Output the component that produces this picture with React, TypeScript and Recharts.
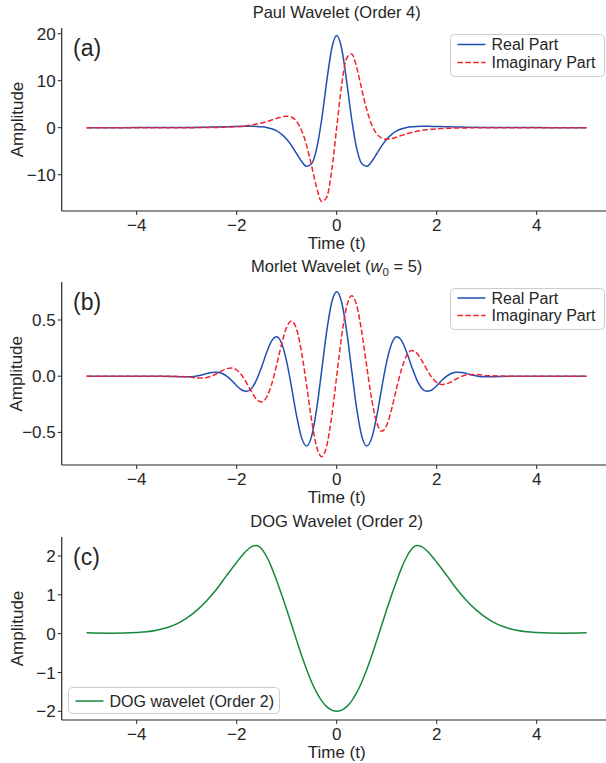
import React from 'react';
import { LineChart, Line, XAxis, YAxis, Legend } from 'recharts';

const FONT = '"Liberation Sans", Arial, Helvetica, sans-serif';
const INK = '#262626';
const BLUE = '#1f4fb4';
const RED = '#f5222d';
const GREEN = '#15883a';

// shared x ticks
const xTicks = [-4, -2, 0, 2, 4];

// (a) Paul wavelet, order 4
const paulT = [
  -5, -4.5, -4, -3.5, -3,
  -2.5, -2.4, -2.3, -2.2, -2.1, -2, -1.9, -1.8, -1.7, -1.6, -1.5, -1.4, -1.3, -1.2, -1.1, -1,
  -0.9, -0.8, -0.7, -0.6, -0.5, -0.4, -0.3, -0.2, -0.1, 0,
  0.1, 0.2, 0.3, 0.4, 0.5, 0.6, 0.7, 0.8, 0.9, 1, 1.1, 1.2, 1.3, 1.4, 1.5, 1.6, 1.7, 1.8, 1.9, 2,
  2.1, 2.2, 2.3, 2.4, 2.5,
  3, 3.5, 4, 4.5, 5,
];
const paulReal = [
  0.0, 0.01, 0.02, 0.03, 0.06,
  0.13, 0.15, 0.18, 0.2, 0.23, 0.26, 0.28, 0.3, 0.3, 0.28, 0.21, 0.05, -0.23, -0.69, -1.41, -2.45,
  -3.85, -5.54, -7.2, -8.22, -7.63, -4.4, 1.79, 9.79, 16.79, 19.6,
  16.79, 9.79, 1.79, -4.4, -7.63, -8.22, -7.2, -5.54, -3.85, -2.45, -1.41, -0.69, -0.23, 0.05, 0.21, 0.28, 0.3, 0.3, 0.28, 0.26,
  0.23, 0.2, 0.18, 0.15, 0.13,
  0.06, 0.03, 0.02, 0.01, 0.0,
];
const paulImag = [
  0.0, 0.0, -0.01, -0.01, 0.0,
  0.05, 0.06, 0.09, 0.13, 0.17, 0.24, 0.32, 0.44, 0.58, 0.77, 1.01, 1.3, 1.64, 1.99, 2.3, 2.45,
  2.22, 1.31, -0.64, -3.87, -8.23, -12.79, -15.7, -14.83, -9.14, 0.0,
  9.14, 14.83, 15.7, 12.79, 8.23, 3.87, 0.64, -1.31, -2.22, -2.45, -2.3, -1.99, -1.64, -1.3, -1.01, -0.77, -0.58, -0.44, -0.32, -0.24,
  -0.17, -0.13, -0.09, -0.06, -0.05,
  0.0, 0.01, 0.01, 0.0, 0.0,
];

// (b) Morlet wavelet, w0 = 5
const morletT = [
  -5, -4.5, -4, -3.5,
  -3, -2.9, -2.8, -2.7, -2.6, -2.5, -2.4, -2.3, -2.2, -2.1, -2, -1.9, -1.8, -1.7, -1.6, -1.5,
  -1.4, -1.3, -1.2, -1.1, -1, -0.9, -0.8, -0.7, -0.6, -0.5, -0.4, -0.3, -0.2, -0.1, 0,
  0.1, 0.2, 0.3, 0.4, 0.5, 0.6, 0.7, 0.8, 0.9, 1, 1.1, 1.2, 1.3, 1.4, 1.5,
  1.6, 1.7, 1.8, 1.9, 2, 2.1, 2.2, 2.3, 2.4, 2.5, 2.6, 2.7, 2.8, 2.9, 3,
  3.5, 4, 4.5, 5,
];
const morletReal = [
  0.0, 0.0, 0.0, 0.0,
  -0.006, -0.004, 0.002, 0.011, 0.023, 0.033, 0.036, 0.026, 0.0, -0.039, -0.085, -0.123, -0.135, -0.107, -0.03, 0.085,
  0.213, 0.315, 0.351, 0.291, 0.129, -0.106, -0.357, -0.551, -0.621, -0.531, -0.289, 0.051, 0.398, 0.656, 0.751,
  0.656, 0.398, 0.051, -0.289, -0.531, -0.621, -0.551, -0.357, -0.106, 0.129, 0.291, 0.351, 0.315, 0.213, 0.085,
  -0.03, -0.107, -0.135, -0.123, -0.085, -0.039, 0.0, 0.026, 0.036, 0.033, 0.023, 0.011, 0.002, -0.004, -0.006,
  0.0, 0.0, 0.0, 0.0,
];
const morletImag = [
  0.0, 0.0, 0.0, 0.0,
  -0.005, -0.01, -0.015, -0.016, -0.011, 0.002, 0.023, 0.047, 0.067, 0.073, 0.055, 0.009, -0.061, -0.141, -0.207, -0.229,
  -0.185, -0.069, 0.102, 0.289, 0.437, 0.49, 0.413, 0.206, -0.089, -0.397, -0.63, -0.716, -0.62, -0.358, 0.0,
  0.358, 0.62, 0.716, 0.63, 0.397, 0.089, -0.206, -0.413, -0.49, -0.437, -0.289, -0.102, 0.069, 0.185, 0.229,
  0.207, 0.141, 0.061, -0.009, -0.055, -0.073, -0.067, -0.047, -0.023, -0.002, 0.011, 0.016, 0.015, 0.01, 0.005,
  0.0, 0.0, 0.0, 0.0,
];

// (c) DOG wavelet, order 2
const dogT = [
  -5, -4.5, -4, -3.8, -3.6, -3.4, -3.2, -3, -2.8, -2.6, -2.4, -2.2,
  -2, -1.9, -1.8, -1.7, -1.6, -1.5, -1.4, -1.3, -1.2, -1.1, -1, -0.9, -0.8, -0.7, -0.6, -0.5, -0.4, -0.3, -0.2, -0.1, 0,
  0.1, 0.2, 0.3, 0.4, 0.5, 0.6, 0.7, 0.8, 0.9, 1, 1.1, 1.2, 1.3, 1.4, 1.5, 1.6, 1.7, 1.8, 1.9, 2,
  2.2, 2.4, 2.6, 2.8, 3, 3.2, 3.4, 3.6, 3.8, 4, 4.5, 5,
];
const dogVal = [
  0.02, 0.01, 0.03, 0.05, 0.09, 0.15, 0.25, 0.4, 0.6, 0.85, 1.15, 1.5,
  1.84, 2.0, 2.14, 2.24, 2.27, 2.18, 1.98, 1.7, 1.36, 1.0, 0.62, 0.22, -0.18, -0.57, -0.93, -1.25, -1.52, -1.73, -1.88, -1.97, -2.0,
  -1.97, -1.88, -1.73, -1.52, -1.25, -0.93, -0.57, -0.18, 0.22, 0.62, 1.0, 1.36, 1.7, 1.98, 2.18, 2.27, 2.24, 2.14, 2.0, 1.84,
  1.5, 1.15, 0.85, 0.6, 0.4, 0.25, 0.15, 0.09, 0.05, 0.03, 0.01, 0.02,
];

const paulData = paulT.map((t, i) => ({ t, real: paulReal[i], imag: paulImag[i] }));
const morletData = morletT.map((t, i) => ({ t, real: morletReal[i], imag: morletImag[i] }));
const dogData = dogT.map((t, i) => ({ t, dog: dogVal[i] }));

const fmt = (digits: number) => (v: number) => {
  const s = Math.abs(v).toFixed(digits);
  return v < 0 ? '\u2212' + s : s;
};

type Series = { key: string; name: string; color: string; dash?: string };

const LegendBox = ({ series, width, height, rows }: { series: Series[]; width: number; height: number; rows: number[] }) => (
  <svg width={width} height={height} style={{ display: 'block', overflow: 'visible' }}>
    <rect x={0.5} y={0.5} width={width - 1} height={height - 1} rx={4} fill="#fff" fillOpacity={0.8} stroke="#cccccc" />
    {series.map((s, i) => (
      <g key={s.key}>
        <line x1={7.5} x2={35.5} y1={rows[i]} y2={rows[i]} stroke={s.color} strokeWidth={1.5} strokeDasharray={s.dash} />
        <text x={41.5} y={rows[i] + 5.7} fontSize={16} fontFamily={FONT} fill={INK}>{s.name}</text>
      </g>
    ))}
  </svg>
);

const W = 620;
const H = 255;
const PLOT_TOP = 28;
const TICK_FONT = 17;

interface PanelProps {
  top: number;
  data: any[];
  yDomain: [number, number];
  yTicks: number[];
  digits: number;
  series: Series[];
  legendBox: { left: number; top: number; width: number; height: number; rows: number[] };
}

const Panel = ({ top, data, yDomain, yTicks, digits, series, legendBox }: PanelProps) => (
  <div style={{ position: 'absolute', left: 0, top }}>
    <LineChart width={W} height={H} data={data} margin={{ top: PLOT_TOP, right: 8.3, bottom: 0, left: 11.7 }}>
      <XAxis
        dataKey="t"
        type="number"
        domain={[-5.5, 5.5]}
        ticks={xTicks}
        allowDataOverflow
        height={44}
        tickFormatter={fmt(0)}
        tickSize={4}
        tickMargin={4}
        axisLine={{ stroke: INK, strokeWidth: 1.2 }}
        tickLine={{ stroke: INK }}
        tick={{ fill: INK, fontSize: TICK_FONT, fontFamily: FONT }}
      />
      <XAxis
        xAxisId="top"
        orientation="top"
        dataKey="t"
        type="number"
        domain={[-5.5, 5.5]}
        allowDataOverflow
        height={0}
        tick={false}
        tickLine={false}
        axisLine={{ stroke: INK, strokeWidth: 1.2 }}
      />
      <YAxis
        type="number"
        domain={yDomain}
        ticks={yTicks}
        allowDataOverflow
        width={50}
        tickFormatter={fmt(digits)}
        tickSize={4}
        axisLine={{ stroke: INK, strokeWidth: 1.2 }}
        tickLine={{ stroke: INK }}
        tick={{ fill: INK, fontSize: TICK_FONT, fontFamily: FONT }}
      />
      <YAxis
        yAxisId="right"
        orientation="right"
        type="number"
        domain={yDomain}
        allowDataOverflow
        width={0}
        tick={false}
        tickLine={false}
        axisLine={{ stroke: INK, strokeWidth: 1.2 }}
      />
      {series.map((s) => (
        <Line
          key={s.key}
          dataKey={s.key}
          name={s.name}
          type="monotone"
          stroke={s.color}
          strokeWidth={1.5}
          strokeDasharray={s.dash}
          dot={false}
          activeDot={false}
          isAnimationActive={false}
        />
      ))}
      <Legend
        layout="vertical"
        verticalAlign="middle"
        align="center"
        wrapperStyle={{ left: legendBox.left, top: legendBox.top, width: legendBox.width, height: legendBox.height }}
        content={() => <LegendBox series={series} width={legendBox.width} height={legendBox.height} rows={legendBox.rows} />}
      />
    </LineChart>
  </div>
);

const wavePair: Series[] = [
  { key: 'real', name: 'Real Part', color: BLUE },
  { key: 'imag', name: 'Imaginary Part', color: RED, dash: '5.5 2.4' },
];
const dogSeries: Series[] = [{ key: 'dog', name: 'DOG wavelet (Order 2)', color: GREEN }];

// axes boxes in page coordinates (top, bottom)
const boxes = [
  { top: 28, bottom: 211 },
  { top: 282.3, bottom: 465.3 },
  { top: 537, bottom: 720 },
];
const letters = ['(a)', '(b)', '(c)'];
const CX = 336.7;

export default function App() {
  return (
    <div style={{ position: 'absolute', left: 0, top: 0, width: 606, height: 763, overflow: 'hidden', background: '#fff' }}>
      <Panel
        top={boxes[0].top - PLOT_TOP}
        data={paulData}
        yDomain={[-17.72, 21.21]}
        yTicks={[-10, 0, 10, 20]}
        digits={0}
        series={wavePair}
        legendBox={{ left: 450, top: 34, width: 155, height: 43, rows: [10.5, 28.5] }}
      />
      <Panel
        top={boxes[1].top - PLOT_TOP}
        data={morletData}
        yDomain={[-0.79, 0.838]}
        yTicks={[-0.5, 0, 0.5]}
        digits={1}
        series={wavePair}
        legendBox={{ left: 450, top: 34, width: 155, height: 42, rows: [10, 27.5] }}
      />
      <Panel
        top={boxes[2].top - PLOT_TOP}
        data={dogData}
        yDomain={[-2.224, 2.489]}
        yTicks={[-2, -1, 0, 1, 2]}
        digits={0}
        series={dogSeries}
        legendBox={{ left: 67.7, top: 28 + 183 - 6 - 27, width: 212, height: 27, rows: [14] }}
      />
      <svg width={606} height={763} style={{ position: 'absolute', left: 0, top: 0, pointerEvents: 'none' }} fontFamily={FONT} fill={INK}>
        <text x={CX} y={boxes[0].top - 10} fontSize={16.5} textAnchor="middle">Paul Wavelet (Order 4)</text>
        <text x={CX} y={boxes[1].top - 10} fontSize={16.5} textAnchor="middle">
          Morlet Wavelet (<tspan fontStyle="italic">w</tspan>
          <tspan fontSize={11.5} dy={4}>0</tspan>
          <tspan dy={-4}> = 5)</tspan>
        </text>
        <text x={CX} y={boxes[2].top - 10} fontSize={16.5} textAnchor="middle">DOG Wavelet (Order 2)</text>
        {boxes.map((b, i) => (
          <g key={i}>
            <text x={73} y={b.top + 28} fontSize={23}>{letters[i]}</text>
            <text x={CX} y={b.bottom + 38} fontSize={17} textAnchor="middle">Time (t)</text>
            <text
              x={22.5}
              y={(b.top + b.bottom) / 2}
              fontSize={17}
              textAnchor="middle"
              transform={`rotate(-90 22.5 ${(b.top + b.bottom) / 2})`}
            >
              Amplitude
            </text>
          </g>
        ))}
      </svg>
    </div>
  );
}
